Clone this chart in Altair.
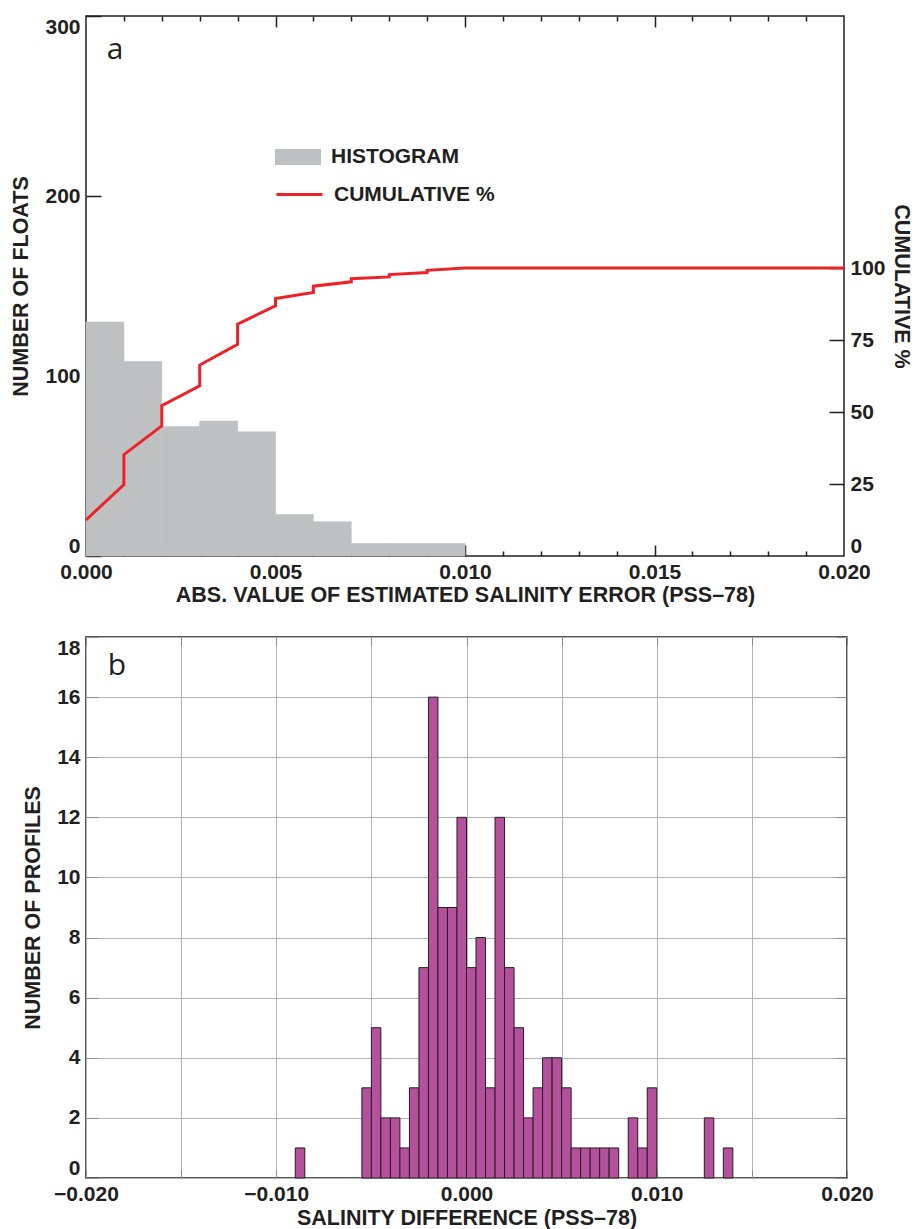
import altair as alt
import pandas as pd

# ---------------- Panel a data ----------------
hist_start = [0.000, 0.001, 0.002, 0.003, 0.004, 0.005, 0.006, 0.007, 0.008, 0.009]
hist_end = [0.001, 0.002, 0.003, 0.004, 0.005, 0.006, 0.007, 0.008, 0.009, 0.010]
hist_count = [130, 108, 72, 75, 69, 23, 19, 7, 7, 7]

cum_x = [0.000, 0.001, 0.001, 0.002, 0.002, 0.003, 0.003, 0.004, 0.004, 0.005, 0.005,
         0.006, 0.006, 0.007, 0.007, 0.008, 0.008, 0.009, 0.009, 0.010, 0.020]
cum_pct = [12.5, 24.8, 35.2, 45.2, 52.2, 59.1, 66.3, 73.5, 80.5, 86.9, 89.4,
           91.5, 93.7, 95.2, 96.3, 96.9, 97.7, 98.4, 99.2, 100.0, 100.0]

a_xlabels = [0.000, 0.005, 0.010, 0.015, 0.020]
a_minor = [0.001, 0.002, 0.003, 0.004, 0.006, 0.007, 0.008, 0.009,
           0.011, 0.012, 0.013, 0.014, 0.016, 0.017, 0.018, 0.019]
a_major = [0.005, 0.010, 0.015]
a_ylabels = [0, 100, 200, 300]
a_clabels = [0, 25, 50, 75, 100]

# ---------------- Panel b data ----------------
diff_start = [-0.0090, -0.0055, -0.0050, -0.0045, -0.0040, -0.0035, -0.0030, -0.0025,
              -0.0020, -0.0015, -0.0010, -0.0005, 0.0000, 0.0005, 0.0010, 0.0015,
              0.0020, 0.0025, 0.0030, 0.0035, 0.0040, 0.0045, 0.0050, 0.0055,
              0.0060, 0.0065, 0.0070, 0.0075, 0.0085, 0.0090, 0.0095, 0.0125, 0.0135]
diff_count = [1, 3, 5, 2, 2, 1, 3, 7,
              16, 9, 9, 12, 7, 8, 3, 12,
              7, 5, 2, 3, 4, 4, 3, 1,
              1, 1, 1, 1, 2, 1, 3, 2, 1]
bin_width = 0.0005
b_xgrid = [-0.020, -0.015, -0.010, -0.005, 0.000, 0.005, 0.010, 0.015, 0.020]
b_ylabels = [0, 2, 4, 6, 8, 10, 12, 14, 16, 18]

# ---------------- style ----------------
FONT = "Liberation Sans"
INK = "#231f20"
GREY = "#bfc0c2"
RED = "#ec2227"
MAG = "#b5519c"
GRID = "#b3b3b3"
TICKB = "#8c8c8c"

W_A, H_A = 758, 540
W_B, H_B = 761, 541

hist_df = pd.DataFrame({"start": hist_start, "end": hist_end, "count": hist_count,
                        "base": [0] * len(hist_start), "series": ["HISTOGRAM"] * len(hist_start)})
cum_df = pd.DataFrame({"x": cum_x, "pct": cum_pct, "idx": list(range(len(cum_x))),
                       "series": ["CUMULATIVE %"] * len(cum_x)})
a_lab = pd.DataFrame({"x": [0.00077], "y": [281], "t": ["a"]})

xa = alt.Scale(domain=[0, 0.02], nice=False, zero=False)
ya = alt.Scale(domain=[0, 300], nice=False)
yc = alt.Scale(domain=[0, 187.5], nice=False)


def tick_axis(orient, values, size, offset, color=INK, width=1.5):
    return alt.Axis(orient=orient, values=values, tickSize=size, offset=offset,
                    labels=False, domain=False, grid=False, title=None,
                    tickColor=color, tickWidth=width)


legend_common = dict(orient="none", title=None, labelFont=FONT, labelFontSize=21,
                     labelFontWeight="bold", labelColor=INK, labelOffset=10,
                     labelLimit=400, padding=0)

bars = alt.Chart(hist_df).mark_rect(color=GREY, stroke=GREY, strokeWidth=0.6).encode(
    x=alt.X("start:Q", scale=xa,
            axis=alt.Axis(orient="bottom", values=a_xlabels, format=".3f", ticks=False,
                          domain=False, grid=False, labelPadding=5, titlePadding=2,
                          labelFlush=False,
                          title="ABS. VALUE OF ESTIMATED SALINITY ERROR (PSS\u201378)")),
    x2="end:Q",
    y=alt.Y("count:Q", scale=ya,
            axis=alt.Axis(orient="left", values=a_ylabels, ticks=False, domain=False,
                          grid=False, labelPadding=6, titlePadding=12, labelFlush=True,
                          title="NUMBER OF FLOATS")),
    y2="base:Q",
    fill=alt.Fill("series:N", scale=alt.Scale(domain=["HISTOGRAM"], range=[GREY]),
                  legend=alt.Legend(legendX=189, legendY=118,
                                    symbolType="M-1,-0.35L1,-0.35L1,0.35L-1,0.35Z",
                                    symbolSize=2116, symbolStrokeWidth=0, symbolOpacity=1,
                                    **legend_common)),
)

ticks_a1 = alt.Chart(hist_df).mark_rect(opacity=0).encode(
    x=alt.X("start:Q", scale=xa, axis=tick_axis("top", a_minor, 5, -H_A)),
    y=alt.Y("count:Q", scale=ya, axis=tick_axis("right", a_ylabels, 15, -W_A)),
)
ticks_a2 = alt.Chart(hist_df).mark_rect(opacity=0).encode(
    x=alt.X("start:Q", scale=xa, axis=tick_axis("top", a_major, 11, -H_A)),
    y=alt.Y("count:Q", scale=ya, axis=None),
)

line = alt.Chart(cum_df).mark_line(strokeWidth=3, strokeJoin="miter").encode(
    x=alt.X("x:Q", scale=xa, axis=tick_axis("bottom", a_minor, 5, -H_A)),
    y=alt.Y("pct:Q", scale=yc,
            axis=alt.Axis(orient="right", values=a_clabels, ticks=False, domain=False,
                          grid=False, labelPadding=6, titlePadding=4, labelFlush=True,
                          title="CUMULATIVE %")),
    order="idx:Q",
    stroke=alt.Stroke("series:N", scale=alt.Scale(domain=["CUMULATIVE %"], range=[RED]),
                      legend=alt.Legend(legendX=189, legendY=154,
                                        symbolType="stroke", symbolSize=2116,
                                        symbolStrokeWidth=3, **legend_common)),
)
ticks_a3 = alt.Chart(cum_df).mark_line(opacity=0).encode(
    x=alt.X("x:Q", scale=xa, axis=tick_axis("bottom", a_major, 11, -H_A)),
    y=alt.Y("pct:Q", scale=yc, axis=tick_axis("left", [25, 50, 75, 100], 15, -W_A)),
    order="idx:Q",
)
text_a = alt.Chart(a_lab).mark_text(font="Open Sans", fontSize=30, color=INK).encode(
    x=alt.X("x:Q", scale=xa, axis=None),
    y=alt.Y("y:Q", scale=ya, axis=None),
    text="t:N",
)

panel_a = alt.layer(bars, ticks_a1, ticks_a2, line, ticks_a3, text_a).resolve_scale(
    x="independent", y="independent"
).resolve_axis(x="independent", y="independent").properties(width=W_A, height=H_A)

# ---------------- panel b ----------------
diff_df = pd.DataFrame({"start": diff_start,
                        "end": [s + bin_width for s in diff_start],
                        "count": diff_count, "base": [0] * len(diff_start)})
b_lab = pd.DataFrame({"x": [-0.01837], "y": [17.05], "t": ["b"]})

xb = alt.Scale(domain=[-0.02, 0.02], nice=False, zero=False)
yb = alt.Scale(domain=[0, 18], nice=False)

b_bars = alt.Chart(diff_df).mark_rect(fill=MAG, stroke=INK, strokeWidth=1).encode(
    x=alt.X("start:Q", scale=xb,
            axis=alt.Axis(orient="bottom", values=b_xgrid, ticks=False, domain=False,
                          grid=True, gridColor=GRID, gridWidth=1, labelFlush=False,
                          labelExpr="abs(round(datum.value*1000)) % 10 == 0 ? format(datum.value, '.3f') : ''",
                          labelPadding=5, titlePadding=3,
                          title="SALINITY DIFFERENCE (PSS\u201378)")),
    x2="end:Q",
    y=alt.Y("count:Q", scale=yb,
            axis=alt.Axis(orient="left", values=b_ylabels, ticks=False, domain=False,
                          grid=True, gridColor=GRID, gridWidth=1, labelPadding=6,
                          labelFlush=True, titlePadding=12, title="NUMBER OF PROFILES")),
    y2="base:Q",
)
ticks_b1 = alt.Chart(diff_df).mark_rect(opacity=0).encode(
    x=alt.X("start:Q", scale=xb, axis=tick_axis("top", b_xgrid, 8, -H_B, TICKB, 1)),
    y=alt.Y("count:Q", scale=yb, axis=tick_axis("right", b_ylabels, 12, -W_B, TICKB, 1)),
)
ticks_b2 = alt.Chart(diff_df).mark_rect(opacity=0).encode(
    x=alt.X("start:Q", scale=xb, axis=tick_axis("bottom", b_xgrid, 8, -H_B, TICKB, 1)),
    y=alt.Y("count:Q", scale=yb, axis=tick_axis("left", b_ylabels, 12, -W_B, TICKB, 1)),
)
text_b = alt.Chart(b_lab).mark_text(font="Open Sans", fontSize=30, color=INK).encode(
    x=alt.X("x:Q", scale=xb, axis=None),
    y=alt.Y("y:Q", scale=yb, axis=None),
    text="t:N",
)

panel_b = alt.layer(ticks_b1, ticks_b2, b_bars, text_b).resolve_scale(
    x="independent", y="independent"
).resolve_axis(x="independent", y="independent").properties(width=W_B, height=H_B)

chart = alt.vconcat(panel_a, panel_b, spacing=28).configure_view(
    stroke=INK, strokeWidth=1.5
).configure_axis(
    labelFont=FONT, labelFontSize=21, labelFontWeight="bold", labelColor=INK,
    titleFont=FONT, titleFontSize=21.5, titleFontWeight="bold", titleColor=INK,
).properties(
    padding={"left": 10, "top": 14, "right": 0, "bottom": 0}
)

chart.save("out.html", embed_options={"renderer": "svg", "actions": False})
